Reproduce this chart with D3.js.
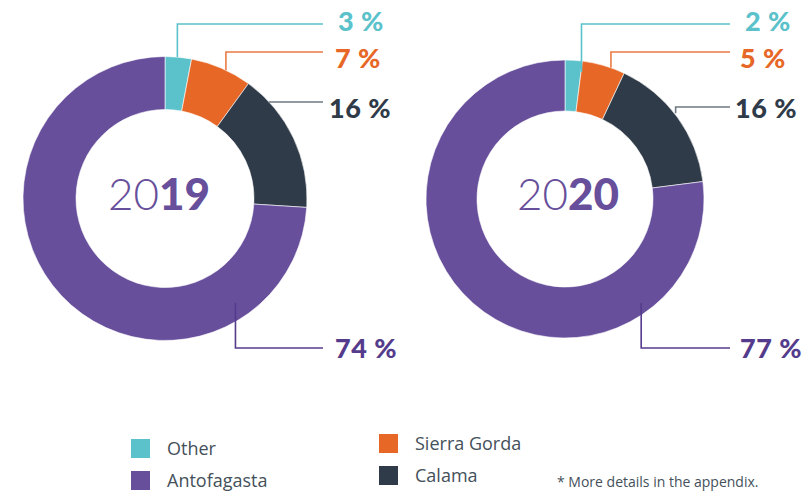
<!DOCTYPE html>
<html lang="en">
<head>
    <meta charset="UTF-8">
    <title>Share by region 2019 / 2020</title>
    <style>
        body { margin: 0; background: #fff; }
        .pct { font: 900 27px "Lato", sans-serif; letter-spacing: 0.5px; }
        .year { font-family: "Lato", sans-serif; font-size: 44px; fill: #674f9b; }
        .legend text { font: 18px "Open Sans", sans-serif; fill: #44505a; }
        .note { font: 14px "Open Sans", sans-serif; fill: #44505a; }
    </style>
</head>
<body>
    <svg width="807" height="496"></svg>
    <script src="https://d3js.org/d3.v7.min.js"></script>
    <script>
        // data
        const years = ["2019", "2020"];
        const regions = ["Other", "Sierra Gorda", "Calama", "Antofagasta"];
        const share2019 = [3, 7, 16, 74];
        const share2020 = [2, 5, 16, 77];
        const legendCol1 = ["Other", "Antofagasta"];
        const legendCol2 = ["Sierra Gorda", "Calama"];
        const note = "* More details in the appendix.";

        const color = d3.scaleOrdinal()
            .domain(regions)
            .range(["#5bc2cb", "#e76727", "#2f3b48", "#674f9b"]);
        const labelColor = d3.scaleOrdinal()
            .domain(regions)
            .range(["#5bc2cb", "#e76727", "#2f3b48", "#553b8c"]);
        const lineColor = d3.scaleOrdinal()
            .domain(regions)
            .range(["#5bc2cb", "#ea7a44", "#6f7880", "#553b8c"]);

        // layout per donut: centre, radii, leader anchors [angle deg, radius], leader y, line end, label pos
        const charts = [
            {
                values: share2019, cx: 165, cy: 198.5, R: 142, r: 89, yearDx: -6,
                anchors: [[5, 142], [25.4, 142], [47, 142], [146, 126]],
                lineY: [24, 52, 102, 348], lineEnd: 323,
                labelX: [338, 335, 329, 335], labelY: [31, 68, 118, 358]
            },
            {
                values: share2020, cx: 565, cy: 199, R: 139, r: 88, yearDx: 3,
                anchors: [[7.4, 128], [19.3, 139], [52.2, 140], [143.8, 129]],
                lineY: [24, 52, 107, 348], lineEnd: 730,
                labelX: [745, 740, 735, 740], labelY: [31, 68, 118, 358]
            }
        ];

        const svg = d3.select("svg");

        const pie = d3.pie().sort(null).value(d => d.value);

        charts.forEach((c, ci) => {
            const g = svg.append("g").attr("transform", `translate(${c.cx},${c.cy})`);
            const arc = d3.arc().innerRadius(c.r).outerRadius(c.R);
            const rows = regions.map((name, i) => ({ name, value: c.values[i] }));

            g.selectAll("path.slice")
                .data(pie(rows))
                .enter().append("path")
                .attr("class", "slice")
                .attr("d", arc)
                .attr("fill", d => color(d.data.name))
                .attr("stroke", "#fff")
                .attr("stroke-width", 0.6);

            // centre year: light first half, bold second half
            const t = g.append("text")
                .attr("class", "year")
                .attr("text-anchor", "middle")
                .attr("x", c.yearDx)
                .attr("y", 11);
            t.append("tspan").attr("font-weight", 300).text(years[ci].slice(0, 2));
            t.append("tspan").attr("font-weight", 900).text(years[ci].slice(2));

            // leader lines + labels
            rows.forEach((d, i) => {
                const [deg, rad] = c.anchors[i];
                const a = deg * Math.PI / 180;
                const ax = rad * Math.sin(a);
                const ay = -rad * Math.cos(a);
                const ly = c.lineY[i] - c.cy;
                const ex = c.lineEnd - c.cx;

                g.append("path")
                    .attr("d", `M${ax},${ay} L${ax},${ly} L${ex},${ly}`)
                    .attr("fill", "none")
                    .attr("stroke", lineColor(d.name))
                    .attr("stroke-width", 1.6);

                g.append("text")
                    .attr("class", "pct")
                    .attr("x", c.labelX[i] - c.cx)
                    .attr("y", c.labelY[i] - c.cy)
                    .attr("fill", labelColor(d.name))
                    .text(`${d.value} %`);
            });
        });

        // legend
        const legend = svg.append("g").attr("class", "legend");
        const cols = [
            { items: legendCol1, x: 131, y: 439 },
            { items: legendCol2, x: 379, y: 434 }
        ];
        cols.forEach(col => {
            const item = legend.selectAll(null)
                .data(col.items)
                .enter().append("g")
                .attr("transform", (d, i) => `translate(${col.x},${col.y + i * 32})`);
            item.append("rect")
                .attr("width", 19)
                .attr("height", 19)
                .attr("fill", d => color(d));
            item.append("text")
                .attr("x", 36)
                .attr("y", 16)
                .text(d => d);
        });

        svg.append("text")
            .attr("class", "note")
            .attr("x", 557)
            .attr("y", 487)
            .text(note);
    </script>
</body>
</html>
